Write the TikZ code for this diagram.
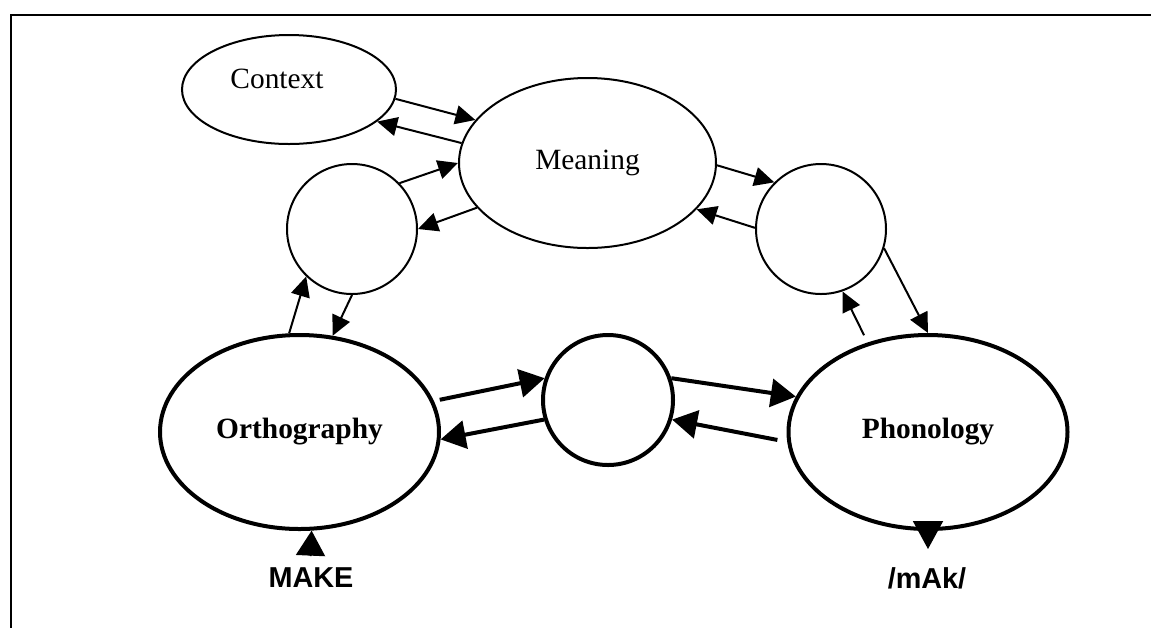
\documentclass[tikz,border=0pt]{standalone}
\usepackage{fontspec}
\setmainfont{Liberation Serif}
\newfontfamily\lsans{Liberation Sans}
\usetikzlibrary{arrows.meta,shapes.geometric}

\begin{document}
\begin{tikzpicture}[x=0.5pt, y=-0.5pt, font=\fontsize{14.7}{17}\selectfont,
  >={Triangle[length=10pt, width=9.5pt]},
  ell/.style={ellipse, draw, line width=1pt, inner sep=0},
  bigell/.style={ellipse, draw, line width=2pt, inner sep=0,
    minimum width=139.5pt, minimum height=97pt,
    font=\fontsize{14.7}{17}\selectfont\bfseries},
  hid/.style={circle, draw, line width=1pt, minimum size=65pt, inner sep=0},
  arr/.style={->, line width=1pt},
  thk/.style={-{Triangle[length=12.5pt, width=14pt]}, line width=2pt},
  io/.style={font=\fontsize{14.4}{17}\selectfont\lsans\bfseries, inner sep=0}]
  \useasboundingbox (0,0) rectangle (1151,628);
  \draw[line width=1.1pt] (1151,15) -- (11,15) -- (11,628);

  \node[ell, minimum width=107pt, minimum height=54.5pt] (ctx) at (289,89.5) {};
  \node (ctxt) at (277,79) {Context};
  \node[ell, minimum width=128.5pt, minimum height=85pt] (mean) at (587.5,163) {Meaning};
  \node[hid] (lc) at (352,229) {};
  \node[hid] (rc) at (821,229) {};
  \node[hid, line width=2pt] (mc) at (608,400) {};
  \node[bigell] (orth) at (299.5,432) {Orthography};
  \node[bigell] (phon) at (928,432) {Phonology};
  \node[io] (make) at (311,578) {MAKE};
  \node[io] (mak) at (927,578) {/mAk/};
  \coordinate (makein) at (310.5,556);
  \coordinate (makout) at (928,549);

  \draw[arr] (ctx.-5.7) -- (mean.159);
  \draw[arr] (mean.171) -- (ctx.-20.7);
  \draw[arr] (lc.44) -- (mean.180);
  \draw[arr] (mean.202) -- (lc.0);
  \draw[arr] (mean.-1) -- (rc.135);
  \draw[arr] (rc.179) -- (mean.-23);
  \draw[arr] (orth.96) -- (lc.226);
  \draw[arr] (lc.270) -- (orth.71.5);
  \draw[arr] (rc.-17.6) -- (phon.90);
  \draw[arr, shorten <=4pt] (phon.124) -- (rc.-71);
  \draw[thk, shorten <=3pt] (orth.13) -- (mc.161);
  \draw[thk] (mc.197.6) -- (orth.-3.3);
  \draw[thk] (mc.19) -- (phon.165.5);
  \draw[thk, shorten <=5pt] (phon.184) -- (mc.-17.4);
  \draw[-{Triangle[length=12.5pt, width=14.5pt]}, line width=1pt] (makein) -- (orth.-83.5);
  \draw[-{Triangle[length=14pt, width=15pt]}, line width=1pt] (phon.south) -- (makout);
\end{tikzpicture}
\end{document}
